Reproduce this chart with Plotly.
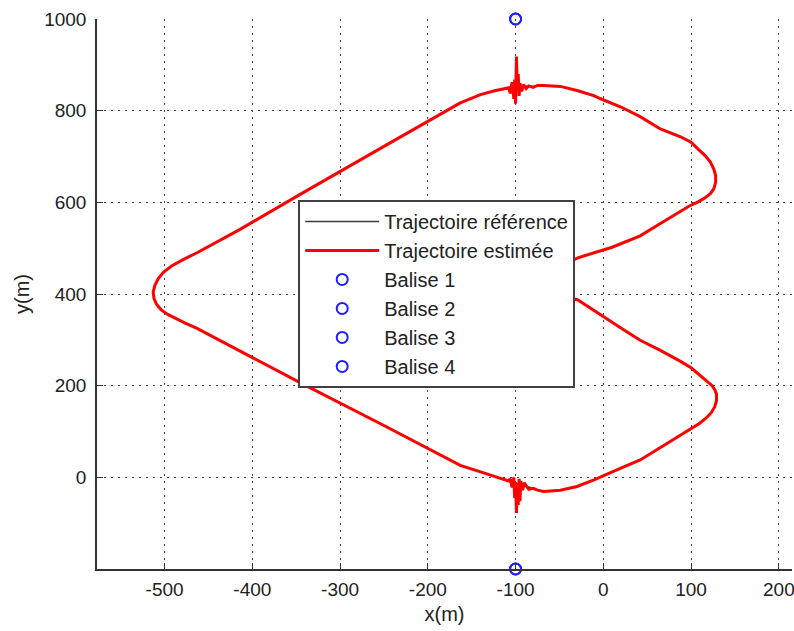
import plotly.graph_objects as go

# Estimated trajectory, clockwise from upper-left line
est_x = [-163, -140, -125, -112, -108, -106, -104, -102, -101, -100, -99, -98, -97, -96, -95, -93, -91, -88,
         -85, -80, -75, -68, -49, -30, -11, -3, 20, 42, 65, 88, 100, 108, 116, 122, 126, 128, 128, 126, 122, 116,
         108, 98, 88, 65, 42, 10, -29, -50, -62, -66, -60, -45, -29, 0, 20, 42, 65, 88, 100, 108, 117, 124,
         127, 129, 129, 127, 123, 117, 109, 99, 80, 61, 42, 20, 5, -10, -30, -49, -68, -75, -80, -85, -88, -90,
         -92, -94, -95, -96, -97, -98, -99, -100, -101, -102, -104, -106, -108, -120, -140, -163, -250, -345,
         -406, -425, -445, -463, -477, -488, -497, -504, -509, -512, -513, -511, -507, -501, -492, -480, -463,
         -414, -345, -250, -163]
est_y = [817, 835, 843, 848, 850, 838, 862, 826, 868, 815, 918, 845, 880, 832, 860, 842, 857, 848,
         854, 851, 855, 855, 853, 844, 833, 826, 808, 787, 760, 743, 731, 716, 702, 688, 672, 658, 644, 630, 619, 610,
         601, 592, 580, 554, 527, 502, 479, 460, 440, 420, 405, 395, 387, 352, 326, 299, 277, 253, 239, 226, 212, 200,
         191, 181, 168, 154, 141, 129, 117, 105, 82, 60, 38, 20, 7, -5, -20, -28, -31, -28, -24, -26, -18, -12,
         -28, -8, -52, -3, -60, -20, -78, -10, -45, 0, -22, -3, -8, -1, 12, 26, 113, 206,
         268, 288, 308, 325, 337, 347, 356, 366, 377, 390, 404, 419, 434, 448, 461, 474, 490,
         541, 618, 722, 817]

# Reference trajectory (smooth path, hidden under the estimate)
ref_x = [-163, -140, -125, -112, -100, -85, -80, -75, -68, -49, -30, -11, -3, 20, 42, 65, 88, 100, 108, 116,
         122, 126, 128, 128, 126, 122, 116, 108, 98, 88, 65, 42, 10, -29, -50, -62, -66, -60, -45, -29, 0, 20,
         42, 65, 88, 100, 108, 117, 124, 127, 129, 129, 127, 123, 117, 109, 99, 80, 61, 42, 20, 5, -10, -30,
         -49, -68, -75, -80, -100, -108, -120, -140, -163, -250, -345, -406, -425, -445, -463, -477, -488, -497,
         -504, -509, -512, -513, -511, -507, -501, -492, -480, -463, -414, -345, -250, -163]
ref_y = [817, 835, 843, 848, 851, 854, 851, 855, 855, 853, 844, 833, 826, 808, 787, 760, 743, 731, 716, 702,
         688, 672, 658, 644, 630, 619, 610, 601, 592, 580, 554, 527, 502, 479, 460, 440, 420, 405, 395, 387, 352, 326,
         299, 277, 253, 239, 226, 212, 200, 191, 181, 168, 154, 141, 129, 117, 105, 82, 60, 38, 20, 7, -5, -20,
         -28, -31, -28, -24, -14, -8, -1, 12, 26, 113, 206, 268, 288, 308, 325, 337, 347, 356,
         366, 377, 390, 404, 419, 434, 448, 461, 474, 490, 541, 618, 722, 817]

# Beacons
balise_names = ["Balise 1", "Balise 2", "Balise 3", "Balise 4"]
balise_x = [-100, -100, -100, -100]
balise_y = [1000, -200, 1000, -200]

x_ticks = [-500, -400, -300, -200, -100, 0, 100, 200]
x_labels = ["-500", "-400", "-300", "-200", "-100", "0", "100", "200"]
y_ticks = [0, 200, 400, 600, 800, 1000]
y_labels = ["0", "200", "400", "600", "800", "1000"]

tick_font = dict(family="Liberation Sans, Arial", size=19, color="#222222")
title_font = dict(family="Liberation Sans, Arial", size=20, color="#222222")

fig = go.Figure()
fig.add_trace(go.Scatter(x=ref_x, y=ref_y, mode="lines", name="Trajectoire référence",
                         line=dict(color="#3a3a3a", width=1.5)))
fig.add_trace(go.Scatter(x=est_x, y=est_y, mode="lines", name="Trajectoire estimée",
                         line=dict(color="#ff0000", width=3)))
for n, bx, by in zip(balise_names, balise_x, balise_y):
    fig.add_trace(go.Scatter(x=[bx], y=[by], mode="markers", name=n, cliponaxis=False,
                             marker=dict(symbol="circle-open", size=11, color="#1f1fff",
                                         line=dict(width=2, color="#1f1fff"))))

axis_common = dict(showline=True, linecolor="#333333", linewidth=1.5, mirror=False,
                   ticks="inside", ticklen=6, tickcolor="#333333",
                   showgrid=True, gridcolor="#444444", griddash="2px,5px", gridwidth=1,
                   zeroline=False, tickfont=tick_font, automargin=False, ticklabeloverflow="allow")

fig.update_xaxes(range=[-577, 215], tickvals=x_ticks, ticktext=x_labels, ticklabelstandoff=2,
                 title=dict(text="x(m)", font=title_font, standoff=8), **axis_common)
fig.update_yaxes(range=[-200, 1000], tickvals=y_ticks, ticktext=y_labels, ticklabelstandoff=5,
                 title=dict(text="y(m)", font=title_font, standoff=9), **axis_common)

fig.update_layout(
    width=794, height=631,
    margin=dict(l=97, r=2, t=19, b=62),
    plot_bgcolor="white", paper_bgcolor="white",
    showlegend=True,
    legend=dict(x=0.2895, y=0.671, xanchor="left", yanchor="top",
                bgcolor="white", bordercolor="#404040", borderwidth=2,
                font=dict(family="Liberation Sans, Arial", size=20, color="#222222"),
                itemwidth=74, tracegroupgap=0),
)

fig.write_html("out.html", config={"displayModeBar": False},
               post_script="document.body.style.margin='0';")
